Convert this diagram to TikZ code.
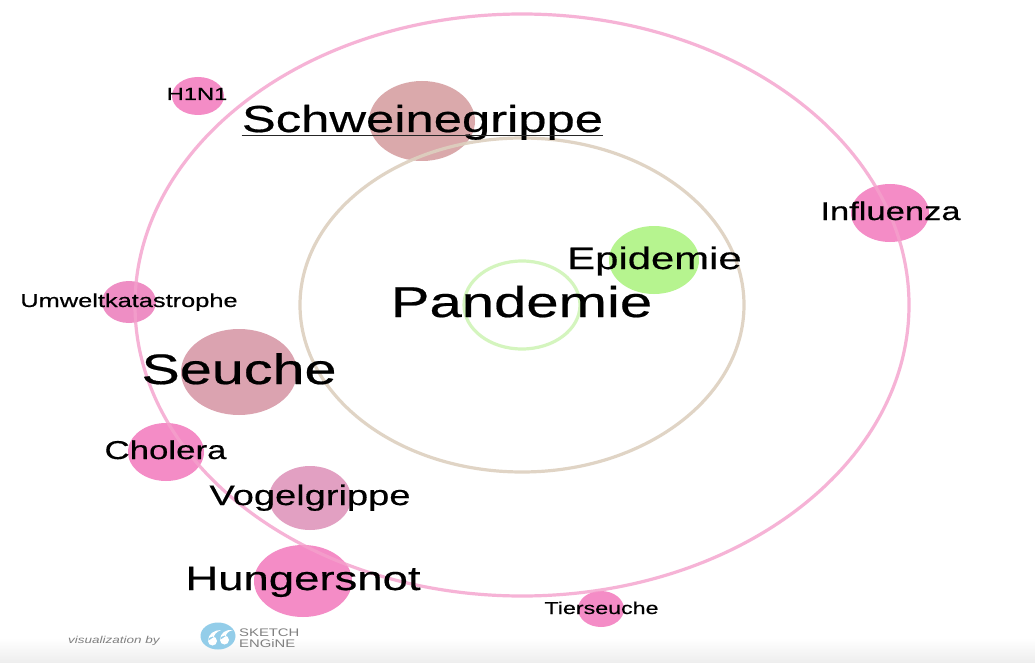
\documentclass[tikz,border=0pt]{standalone}
\usepackage{fontspec}
\setmainfont[FakeStretch=1.35,FakeBold=0.5]{Liberation Sans}
\newfontfamily\thinfont[FakeStretch=1.35]{Liberation Sans}
\usetikzlibrary{shapes.geometric}
\definecolor{ringpink}{HTML}{F4A0CC}
\definecolor{ringtan}{HTML}{DDD0BF}
\definecolor{ringgreen}{HTML}{D4F5BE}
\definecolor{bubblepink}{HTML}{F48CC6}
\definecolor{bubbleumw}{HTML}{EE8EC4}
\definecolor{bubblegreen}{HTML}{B6F48F}
\definecolor{bubblerose}{HTML}{DAA9AB}
\definecolor{bubbleseu}{HTML}{DBA3B0}
\definecolor{bubblevog}{HTML}{E2A0C2}
\definecolor{logoblue}{HTML}{93CDE9}
\definecolor{logogray}{HTML}{808080}
\tikzset{
  bubble/.style n args={3}{shape=ellipse,draw=none,fill=#3,inner sep=0pt,minimum width=#1pt,minimum height=#2pt},
  ring/.style n args={3}{shape=ellipse,draw=#3,line width=3.2pt,fill=none,inner sep=0pt,minimum width=#1pt,minimum height=#2pt},
  word/.style={anchor=base,inner sep=0pt,text=black,font=\fontsize{#1}{#1}\selectfont},
  logotext/.style={anchor=base west,inner sep=0pt,text=logogray,font=\fontsize{11}{11}\selectfont\thinfont},
}
\begin{document}
\begin{tikzpicture}[x=1pt,y=-1pt]
\useasboundingbox (0,0) rectangle (1035,663);
\fill[white] (0,0) rectangle (1035,663);
\shade[top color=white,bottom color=black!7] (0,638) rectangle (1035,663);
% bubbles
\node[bubble={106}{80}{bubblerose}] (bSchwein) at (422,121) {};
\node[bubble={52}{38}{bubblepink}] (bH) at (198,96) {};
\node[bubble={78}{58}{bubblepink}] (bInfl) at (890,213) {};
\node[bubble={90}{68}{bubblegreen}] (bEpi) at (654,260) {};
\node[bubble={54}{42}{bubbleumw}] (bUmw) at (129,302) {};
\node[bubble={116}{86}{bubbleseu}] (bSeu) at (239,372) {};
\node[bubble={76}{58}{bubblepink}] (bChol) at (166,452) {};
\node[bubble={82}{64}{bubblevog}] (bVog) at (310,498) {};
\node[bubble={98}{72}{bubblepink}] (bHung) at (303,581) {};
\node[bubble={46}{36}{bubblepink}] (bTier) at (601,609) {};
% rings
\node[ring={774}{582}{ringpink},opacity=.8] (rOuter) at (522,305) {};
\node[ring={444}{334}{ringtan},opacity=.9] (rMiddle) at (522,305) {};
\node[ring={116}{88}{ringgreen}] (rInner) at (522,305) {};
% labels
\node[word=37.6] (tSchwein) at (422.5,132) {Schweinegrippe};
\draw[line width=1.5pt,black!85] ([yshift=-3.5pt]tSchwein.base west) -- ([yshift=-3.5pt]tSchwein.base east);
\node[word=17.6] (tH) at (197,100) {H1N1};
\node[word=25.6] (tInfl) at (890.5,220) {Influenza};
\node[word=31] (tEpi) at (654.5,269) {Epidemie};
\node[word=43] (tPan) at (521.5,317) {Pandemie};
\node[word=18.8] (tUmw) at (129,307) {Umweltkatastrophe};
\node[word=42.6] (tSeu) at (239,384) {Seuche};
\node[word=25.8] (tChol) at (165.5,459) {Cholera};
\node[word=28.2] (tVog) at (310,505) {Vogelgrippe};
\node[word=33.7] (tHung) at (303,590) {Hungersnot};
\node[word=17.2] (tTier) at (601.5,614) {Tierseuche};
% footer
\node[anchor=base,inner sep=0pt,text=logogray,font=\fontsize{10}{10}\selectfont\thinfont\itshape] (tVis) at (114,643) {visualization by};
\node[shape=ellipse,fill=logoblue,draw=none,inner sep=0pt,minimum width=35pt,minimum height=27pt] (logo) at (218,636) {};
\fill[white] (212.5,641) circle (4.5pt) (208,641) .. controls (208,634) and (214,630) .. (221,630) .. controls (216,632) and (214,635) .. (214,637) -- cycle;
\fill[white] (224.5,640) circle (4.5pt) (220,640) .. controls (220,633) and (226,629) .. (233,630) .. controls (228,631) and (226,634) .. (226,636) -- cycle;
\node[logotext] (tSk) at (239,636.5) {SKETCH};
\node[logotext] (tEn) at (239,647.5) {ENGiNE};
\end{tikzpicture}
\end{document}
